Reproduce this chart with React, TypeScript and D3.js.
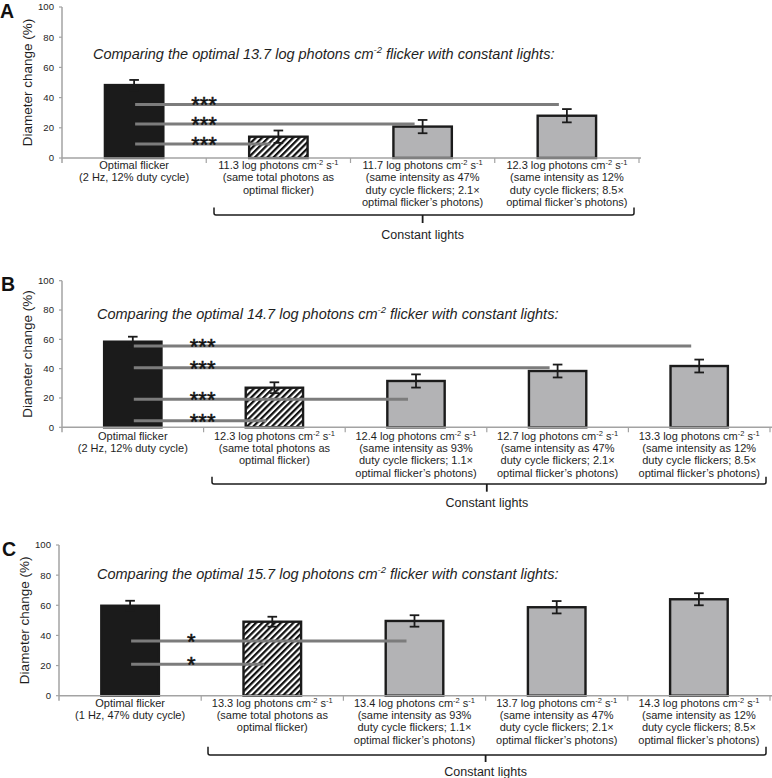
import React from "react";
import * as d3 from "d3";

// ---------- DATA ----------
const panelLetters = ["A", "B", "C"];
const optimalIntensities = ["13.7", "14.7", "15.7"];

const valuesA = [48.3, 14.1, 20.8, 28.0];
const errorsA = [3.4, 4.1, 4.4, 4.4];
const valuesB = [58.4, 27.0, 31.6, 38.4, 41.8];
const errorsB = [3.4, 3.7, 4.5, 4.4, 4.4];
const valuesC = [59.7, 49.1, 49.6, 58.7, 64.0];
const errorsC = [3.3, 3.3, 3.8, 4.1, 4.0];

const kindsA = ["black", "hatch", "grey", "grey"];
const kindsB = ["black", "hatch", "grey", "grey", "grey"];
const kindsC = ["black", "hatch", "grey", "grey", "grey"];

// first label line: null means "Optimal flicker", else the constant light intensity
const intensitiesA = [null, "11.3", "11.7", "12.3"];
const intensitiesB = [null, "12.3", "12.4", "12.7", "13.3"];
const intensitiesC = [null, "13.3", "13.4", "13.7", "14.3"];

const descA = [
  ["Optimal flicker", "(2 Hz, 12% duty cycle)"],
  ["(same total photons as", "optimal flicker)"],
  ["(same intensity as 47%", "duty cycle flickers; 2.1×", "optimal flicker’s photons)"],
  ["(same intensity as 12%", "duty cycle flickers; 8.5×", "optimal flicker’s photons)"],
];
const descB = [
  ["Optimal flicker", "(2 Hz, 12% duty cycle)"],
  ["(same total photons as", "optimal flicker)"],
  ["(same intensity as 93%", "duty cycle flickers; 1.1×", "optimal flicker’s photons)"],
  ["(same intensity as 47%", "duty cycle flickers; 2.1×", "optimal flicker’s photons)"],
  ["(same intensity as 12%", "duty cycle flickers; 8.5×", "optimal flicker’s photons)"],
];
const descC = [
  ["Optimal flicker", "(1 Hz, 47% duty cycle)"],
  ["(same total photons as", "optimal flicker)"],
  ["(same intensity as 93%", "duty cycle flickers; 1.1×", "optimal flicker’s photons)"],
  ["(same intensity as 47%", "duty cycle flickers; 2.1×", "optimal flicker’s photons)"],
  ["(same intensity as 12%", "duty cycle flickers; 8.5×", "optimal flicker’s photons)"],
];

// significance comparisons: level (%) and target category index
const sigLevelsA = [35.5, 22.5, 9.3];
const sigTargetsA = [3, 2, 1];
const sigLevelsB = [55.4, 40.6, 19.1, 4.5];
const sigTargetsB = [4, 3, 2, 1];
const sigLevelsC = [36.3, 20.8];
const sigTargetsC = [2, 1];
const sigStars = ["***", "***", "*"];

const yTicks = [0, 20, 40, 60, 80, 100];
const yLabel = "Diameter change (%)";
const braceLabel = "Constant lights";

// ---------- LAYOUT ----------
const layouts = [
  { axisX: 62, y0: 158, y100: 7, xEnd: 639, labelY: 165, braceY: 215, braceTop: 207.5, braceTip: 223, braceText: 239, braceX1: 214, braceX2: 634, titleX: 93, titleY: 59, letterY: 17.7, letterX: 0 },
  { axisX: 62, y0: 427.3, y100: 280.7, xEnd: 770, labelY: 435.7, braceY: 484, braceTop: 476.7, braceTip: 491.7, braceText: 507, braceX1: 212, braceX2: 766, titleX: 97, titleY: 319, letterY: 291, letterX: 1 },
  { axisX: 59, y0: 695.7, y100: 545, xEnd: 770, labelY: 702.7, braceY: 755, braceTop: 746.7, braceTip: 762, braceText: 776, braceX1: 208, braceX2: 766, titleX: 97, titleY: 579, letterY: 556, letterX: 2 },
];

const panels = [
  { values: valuesA, errors: errorsA, kinds: kindsA, intens: intensitiesA, desc: descA, sigL: sigLevelsA, sigT: sigTargetsA },
  { values: valuesB, errors: errorsB, kinds: kindsB, intens: intensitiesB, desc: descB, sigL: sigLevelsB, sigT: sigTargetsB },
  { values: valuesC, errors: errorsC, kinds: kindsC, intens: intensitiesC, desc: descC, sigL: sigLevelsC, sigT: sigTargetsC },
];

const FONT = "'Liberation Sans', Arial, Helvetica, sans-serif";
const TEXT = "#1e1e1e";
const AXIS = "#a3a3a3";
const GREY = "#b3b3b5";
const SIG = "#7c7c7c";

function Panel({ idx }: { idx: number }) {
  const L = layouts[idx];
  const P = panels[idx];
  const n = P.values.length;
  const x = d3.scaleBand<number>().domain(d3.range(n)).range([L.axisX, L.xEnd]).padding(0);
  const y = d3.scaleLinear().domain([0, 100]).range([L.y0, L.y100]);
  const bw = x.bandwidth() * 0.405;
  const cx = (i: number) => (x(i) as number) + x.bandwidth() / 2;
  const braceMid = ((x(1) as number) + L.xEnd) / 2;
  const lineH = 12.3;
  const capW = 4.8;

  return (
    <g>
      {/* panel letter */}
      <text x={L.letterX} y={L.letterY} fontFamily={FONT} fontWeight="bold" fontSize={19.5} fill="#111">
        {panelLetters[idx]}
      </text>
      {/* title */}
      <text x={L.titleX} y={L.titleY} fontFamily={FONT} fontStyle="italic" fontSize={14.5} fill={TEXT}>
        <tspan>{`Comparing the optimal ${optimalIntensities[idx]} log photons cm`}</tspan>
        <tspan fontSize={9.5} dy={-6}>-2</tspan>
        <tspan dy={6}>{" flicker with constant lights:"}</tspan>
      </text>
      {/* y label */}
      <text
        transform={`translate(${L.axisX - 30},${(L.y0 + L.y100) / 2}) rotate(-90)`}
        textAnchor="middle"
        fontFamily={FONT}
        fontSize={13.5}
        fill={TEXT}
      >
        {yLabel}
      </text>
      {/* y ticks */}
      {yTicks.map((t) => (
        <g key={t}>
          <line x1={L.axisX - 3} x2={L.axisX} y1={y(t)} y2={y(t)} stroke={AXIS} strokeWidth={1.2} />
          <text x={L.axisX - 8} y={y(t)} dy="0.35em" textAnchor="end" fontFamily={FONT} fontSize={9.6} fill={TEXT}>
            {t}
          </text>
        </g>
      ))}
      {/* bars */}
      {P.values.map((v, i) => {
        const k = P.kinds[i];
        const fill = k === "black" ? "#1b1b1b" : k === "hatch" ? "url(#hatch)" : GREY;
        return (
          <rect
            key={i}
            x={cx(i) - bw / 2}
            y={y(v)}
            width={bw}
            height={y(0) - y(v)}
            fill={fill}
            stroke="#1b1b1b"
            strokeWidth={2.4}
          />
        );
      })}
      {/* error bars */}
      {P.values.map((v, i) => {
        const top = y(v + P.errors[i]);
        const bot = y(v - P.errors[i]);
        return (
          <g key={i} stroke="#1b1b1b" strokeWidth={1.8}>
            <line x1={cx(i)} x2={cx(i)} y1={top} y2={bot} />
            <line x1={cx(i) - capW} x2={cx(i) + capW} y1={top} y2={top} />
            <line x1={cx(i) - capW} x2={cx(i) + capW} y1={bot} y2={bot} />
          </g>
        );
      })}
      {/* axes */}
      <line x1={L.axisX} x2={L.axisX} y1={L.y100} y2={L.y0 + 5} stroke={AXIS} strokeWidth={1.5} />
      <line x1={L.axisX} x2={L.xEnd + 2} y1={L.y0} y2={L.y0} stroke={AXIS} strokeWidth={1.5} />
      {d3.range(1, n + 1).map((i) => {
        const bx = i < n ? (x(i) as number) : L.xEnd;
        return <line key={i} x1={bx} x2={bx} y1={L.y0} y2={L.y0 + 5} stroke={AXIS} strokeWidth={1.2} />;
      })}
      {/* significance lines */}
      {P.sigL.map((lv, j) => (
        <g key={j}>
          <line x1={cx(0) + 1} x2={cx(P.sigT[j]) - 8} y1={y(lv)} y2={y(lv)} stroke={SIG} strokeWidth={3} />
          <text x={cx(0) + 57} y={y(lv) + 8} fontFamily={FONT} fontSize={22} fill="#111" stroke="#111" strokeWidth={0.5}>
            {sigStars[idx]}
          </text>
        </g>
      ))}
      {/* category labels */}
      {P.desc.map((lines, i) => {
        const all: React.ReactNode[] = [];
        let row = 0;
        if (P.intens[i] !== null) {
          all.push(
            <text key="h" x={cx(i)} y={L.labelY + 4} textAnchor="middle" fontFamily={FONT} fontSize={11} fill={TEXT}>
              <tspan>{`${P.intens[i]} log photons cm`}</tspan>
              <tspan fontSize={7.5} dy={-4}>-2</tspan>
              <tspan dy={4}>{" s"}</tspan>
              <tspan fontSize={7.5} dy={-4}>-1</tspan>
            </text>
          );
          row = 1;
        }
        lines.forEach((ln, k) => {
          all.push(
            <text key={k} x={cx(i)} y={L.labelY + 4 + (row + k) * lineH} textAnchor="middle" fontFamily={FONT} fontSize={11} fill={TEXT}>
              {ln}
            </text>
          );
        });
        return <g key={i}>{all}</g>;
      })}
      {/* brace */}
      <path
        d={`M${L.braceX1},${L.braceTop} L${L.braceX1},${L.braceY - 2} Q${L.braceX1},${L.braceY} ${L.braceX1 + 2},${L.braceY} L${L.braceX2 - 2},${L.braceY} Q${L.braceX2},${L.braceY} ${L.braceX2},${L.braceY - 2} L${L.braceX2},${L.braceTop}`}
        fill="none"
        stroke="#1b1b1b"
        strokeWidth={1.5}
      />
      <line x1={braceMid} x2={braceMid} y1={L.braceY} y2={L.braceTip} stroke="#1b1b1b" strokeWidth={1.8} />
      <text x={braceMid} y={L.braceText} textAnchor="middle" fontFamily={FONT} fontSize={12.5} fill={TEXT}>
        {braceLabel}
      </text>
    </g>
  );
}

export default function App() {
  return (
    <div style={{ position: "absolute", left: 0, top: 0, width: 772, height: 778, background: "#fff" }}>
      <svg width={772} height={778} style={{ display: "block" }}>
        <defs>
          <pattern id="hatch" patternUnits="userSpaceOnUse" width={4.4} height={4.4} patternTransform="rotate(45)">
            <rect width={4.4} height={4.4} fill="#fff" />
            <line x1={1.1} y1={0} x2={1.1} y2={4.4} stroke="#111" strokeWidth={2.3} />
          </pattern>
        </defs>
        <rect width={772} height={778} fill="#fff" />
        {[0, 1, 2].map((i) => (
          <Panel key={i} idx={i} />
        ))}
      </svg>
    </div>
  );
}
